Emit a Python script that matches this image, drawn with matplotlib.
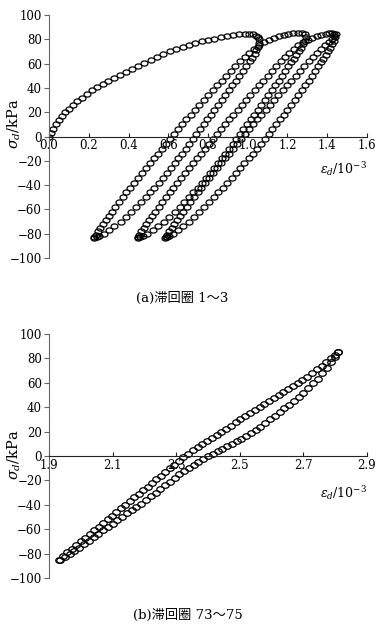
import numpy as np
import matplotlib
matplotlib.use('Agg')
import matplotlib.pyplot as plt
from matplotlib.path import Path
from matplotlib.transforms import Affine2D

plt.rcParams['font.family'] = 'DejaVu Serif'
plt.rcParams['mathtext.fontset'] = 'dejavuserif'

# ---- (a) loops 1~3 : (strain 1e-3, stress kPa) ----
load0 = [(0, 0), (0.008, 3), (0.02, 6.5), (0.034, 10), (0.05, 13.5), (0.066, 17), (0.083, 20),
         (0.1, 23), (0.12, 26), (0.142, 29), (0.165, 32), (0.19, 35), (0.215, 38), (0.242, 40.5),
         (0.27, 43), (0.298, 45.5), (0.327, 48), (0.357, 50.5), (0.387, 53), (0.418, 55.5),
         (0.449, 58), (0.48, 60.5), (0.512, 63), (0.544, 65.5), (0.576, 68), (0.608, 70),
         (0.64, 72), (0.672, 74), (0.704, 75.5), (0.736, 77), (0.768, 78.5), (0.8, 79.5),
         (0.832, 80.5), (0.864, 81.5), (0.896, 82.5), (0.928, 83.5), (0.958, 84.2), (0.985, 84.6),
         (1.008, 84.6), (1.026, 84), (1.04, 83), (1.05, 81.5), (1.056, 80)]

unload1 = [(1.058, 77), (1.052, 74), (1.044, 71), (1.034, 68), (1.022, 65), (1.009, 62), (0.993, 58),
           (0.976, 54), (0.958, 50), (0.940, 46), (0.922, 42), (0.904, 38), (0.886, 34), (0.868, 30),
           (0.850, 26), (0.832, 22), (0.814, 18), (0.796, 14), (0.778, 10), (0.760, 6), (0.742, 2),
           (0.724, -2), (0.706, -6), (0.688, -10), (0.670, -14), (0.651, -18), (0.632, -22),
           (0.613, -26), (0.593, -30), (0.572, -34), (0.551, -38), (0.530, -42), (0.508, -46),
           (0.486, -50), (0.463, -54), (0.439, -58), (0.414, -62), (0.388, -66), (0.360, -70),
           (0.329, -74), (0.303, -77), (0.275, -80), (0.254, -82), (0.240, -83), (0.228, -83.5)]

reload1 = [(0.228, -83), (0.236, -81), (0.246, -78), (0.258, -75), (0.271, -72), (0.285, -69),
           (0.300, -65.5), (0.316, -62), (0.333, -58), (0.351, -54), (0.370, -50), (0.389, -46),
           (0.408, -42), (0.428, -38), (0.448, -34), (0.468, -30), (0.488, -26), (0.508, -22),
           (0.528, -18), (0.548, -14), (0.568, -10), (0.588, -6), (0.608, -2), (0.628, 2),
           (0.648, 6), (0.668, 10), (0.690, 14), (0.712, 18), (0.734, 22), (0.756, 26), (0.778, 30),
           (0.800, 34), (0.823, 38), (0.846, 42), (0.869, 46), (0.892, 50), (0.915, 54), (0.938, 58),
           (0.961, 62), (0.984, 65.5), (1.007, 69), (1.030, 72), (1.055, 75), (1.080, 77.5),
           (1.105, 79.5), (1.130, 81), (1.155, 82.5), (1.180, 83.5), (1.205, 84.2), (1.230, 84.8),
           (1.255, 85), (1.275, 85)]

unload2 = [(1.286, 84), (1.291, 81.5), (1.288, 78.5), (1.280, 76), (1.270, 73), (1.258, 70),
           (1.245, 67), (1.232, 64), (1.218, 61), (1.204, 58), (1.189, 54), (1.173, 50), (1.156, 46),
           (1.139, 42), (1.122, 38), (1.104, 34), (1.086, 30), (1.068, 26), (1.050, 22), (1.032, 18),
           (1.014, 14), (0.996, 10), (0.978, 6), (0.960, 2), (0.942, -2), (0.924, -6), (0.906, -10),
           (0.888, -14), (0.869, -18), (0.850, -22), (0.831, -26), (0.811, -30), (0.790, -34),
           (0.769, -38), (0.748, -42), (0.726, -46), (0.704, -50), (0.681, -54), (0.657, -58),
           (0.632, -62), (0.606, -66), (0.578, -70), (0.547, -74), (0.521, -77), (0.493, -80),
           (0.472, -82), (0.458, -83), (0.446, -83.5)]

reload2 = [(0.446, -83), (0.454, -81), (0.464, -78), (0.476, -75), (0.489, -72), (0.503, -69),
           (0.518, -65.5), (0.534, -62), (0.551, -58), (0.569, -54), (0.588, -50), (0.607, -46),
           (0.626, -42), (0.646, -38), (0.666, -34), (0.686, -30), (0.706, -26), (0.726, -22),
           (0.746, -18), (0.766, -14), (0.786, -10), (0.806, -6), (0.826, -2), (0.846, 2),
           (0.866, 6), (0.886, 10), (0.907, 14), (0.928, 18), (0.949, 22), (0.970, 26), (0.991, 30),
           (1.012, 34), (1.034, 38), (1.056, 42), (1.078, 46), (1.100, 50), (1.122, 54), (1.144, 58),
           (1.166, 62), (1.188, 65.5), (1.210, 69), (1.232, 72), (1.255, 75), (1.278, 77.5),
           (1.301, 79.5), (1.324, 81), (1.347, 82.5), (1.370, 83.5), (1.392, 84.5), (1.410, 85),
           (1.422, 85)]

unload3 = [(1.432, 84), (1.437, 81.5), (1.434, 78.5), (1.426, 76), (1.416, 73), (1.405, 70),
           (1.393, 67), (1.381, 64), (1.368, 61), (1.355, 58), (1.339, 54), (1.323, 50), (1.306, 46),
           (1.289, 42), (1.272, 38), (1.254, 34), (1.236, 30), (1.218, 26), (1.200, 22), (1.181, 18),
           (1.162, 14), (1.143, 10), (1.124, 6), (1.105, 2), (1.085, -2), (1.065, -6), (1.045, -10),
           (1.025, -14), (1.004, -18), (0.983, -22), (0.962, -26), (0.941, -30), (0.919, -34),
           (0.897, -38), (0.875, -42), (0.852, -46), (0.829, -50), (0.805, -54), (0.781, -58),
           (0.756, -62), (0.730, -66), (0.702, -70), (0.672, -74), (0.648, -77), (0.622, -80),
           (0.604, -82), (0.593, -83), (0.586, -83.5)]

reload3 = [(0.587, -83), (0.595, -81), (0.605, -78), (0.617, -75), (0.630, -72), (0.644, -69),
           (0.659, -65.5), (0.675, -62), (0.692, -58), (0.710, -54), (0.729, -50), (0.748, -46),
           (0.767, -42), (0.787, -38), (0.807, -34), (0.827, -30), (0.847, -26), (0.867, -22),
           (0.887, -18), (0.907, -14), (0.927, -10), (0.947, -6), (0.967, -2), (0.987, 2),
           (1.007, 6), (1.027, 10), (1.048, 14), (1.069, 18), (1.090, 22), (1.111, 26), (1.132, 30),
           (1.153, 34), (1.175, 38), (1.197, 42), (1.219, 46), (1.241, 50), (1.263, 54), (1.285, 58),
           (1.307, 62), (1.328, 65.5), (1.349, 69), (1.370, 72), (1.390, 75), (1.408, 78),
           (1.424, 80.5), (1.436, 82.5), (1.444, 84)]

# ---- (b) loops 73~75 ----
upper_b = [(1.932, -85), (1.945, -82), (1.958, -79), (1.972, -76), (1.986, -73), (2.000, -70),
           (2.014, -67), (2.028, -64), (2.042, -61), (2.056, -58), (2.070, -55), (2.084, -52),
           (2.098, -49), (2.112, -46), (2.126, -43), (2.140, -40), (2.154, -37), (2.168, -34),
           (2.182, -31), (2.196, -28), (2.210, -25), (2.224, -22), (2.238, -19), (2.252, -16),
           (2.266, -13), (2.280, -10), (2.294, -7), (2.308, -4), (2.322, -1), (2.337, 2),
           (2.352, 5), (2.367, 7.5), (2.382, 10), (2.397, 12.5), (2.412, 15), (2.427, 17.5),
           (2.442, 20), (2.457, 22.5), (2.472, 25), (2.487, 27.5), (2.502, 30), (2.517, 32.5),
           (2.532, 35), (2.547, 37.5), (2.562, 40), (2.577, 42.5), (2.592, 45), (2.607, 47.5),
           (2.622, 50), (2.637, 52.5), (2.652, 55), (2.667, 57.5), (2.682, 60), (2.697, 62.5),
           (2.712, 65), (2.727, 68), (2.742, 71), (2.757, 74), (2.772, 77), (2.786, 80),
           (2.798, 83), (2.808, 85)]

lower_b = [(1.935, -85), (1.950, -82.5), (1.965, -80), (1.980, -77.5), (1.995, -75), (2.010, -72),
           (2.025, -69.5), (2.040, -66.5), (2.055, -64), (2.070, -61), (2.085, -58), (2.100, -55.5),
           (2.115, -52.5), (2.130, -50), (2.145, -47), (2.160, -44.5), (2.175, -41.5), (2.190, -39),
           (2.205, -36), (2.220, -33), (2.235, -30), (2.250, -27), (2.265, -24), (2.280, -21),
           (2.295, -18), (2.310, -15), (2.325, -12.5), (2.340, -10), (2.355, -7.5), (2.370, -5),
           (2.385, -2.5), (2.400, 0), (2.415, 2), (2.430, 4), (2.445, 6), (2.460, 8), (2.475, 10),
           (2.490, 12), (2.505, 14), (2.520, 16.5), (2.535, 19), (2.550, 21.5), (2.565, 24),
           (2.580, 27), (2.595, 30), (2.610, 33), (2.625, 36), (2.640, 39), (2.655, 42), (2.670, 45),
           (2.685, 48.5), (2.700, 52), (2.715, 55.5), (2.730, 59.5), (2.745, 63.5), (2.760, 68),
           (2.775, 72.5), (2.788, 77), (2.800, 81), (2.810, 85)]

branches_a = [load0, unload1, reload1, unload2, reload2, unload3, reload3]
branches_b = [upper_b, lower_b]
xticks_a = [0.0, 0.2, 0.4, 0.6, 0.8, 1.0, 1.2, 1.4, 1.6]
xticks_b = [1.9, 2.1, 2.3, 2.5, 2.7, 2.9]
yticks = [-100, -80, -60, -40, -20, 0, 20, 40, 60, 80, 100]

# slightly wide open circle, like the scanned markers
oval = Path.unit_circle().transformed(Affine2D().scale(1.35, 1.0))

W, H = 381, 626
fig = plt.figure(figsize=(W / 100, H / 100), dpi=100)


def draw(rect, branches, xticks, ylab_y, xlab_y, caption, cap_x, cap_y, ms):
    ax = fig.add_axes(rect)
    for br in branches:
        xs, ys = zip(*br)
        ax.plot(xs, ys, ls='none', marker=oval, ms=ms, mfc='none', mec='black', mew=0.9)
    ax.set_xlim(xticks[0], xticks[-1])
    ax.set_ylim(-100, 100)
    ax.set_xticks(xticks)
    ax.set_xticklabels(['%.1f' % t for t in xticks])
    ax.set_yticks(yticks)
    ax.spines['top'].set_visible(False)
    ax.spines['right'].set_visible(False)
    ax.spines['bottom'].set_position(('data', 0))
    ax.spines['bottom'].set_color('#222222')
    ax.spines['left'].set_color('#666666')
    ax.tick_params(axis='x', direction='in', length=3, pad=2, labelsize=8.5, color='#222222')
    ax.tick_params(axis='y', direction='out', length=3.5, pad=1.5, labelsize=8.5, color='#666666')
    ax.text(xticks[-1], xlab_y, r'$\varepsilon_d$/10$^{-3}$', ha='right', va='center', fontsize=9)
    fig.text(14 / W, 1 - ylab_y / H, r'$\sigma_d$/kPa', rotation=90, ha='center', va='center',
             fontsize=10.5)
    fig.text(cap_x / W, 1 - cap_y / H, caption, ha='center', va='center', fontsize=9.5,
             family=['DejaVu Serif', 'Noto Sans CJK SC'])
    return ax


draw([49 / W, 1 - 258 / H, 318 / W, 243 / H], branches_a, xticks_a, 124, -27,
     '(a)滞回圈 1～3', 182, 298, 5.0)
draw([49 / W, 1 - 578 / H, 318 / W, 244 / H], branches_b, xticks_b, 455, -30,
     '(b)滞回圈 73～75', 188, 615, 5.4)

fig.savefig('out.png', dpi=100)
